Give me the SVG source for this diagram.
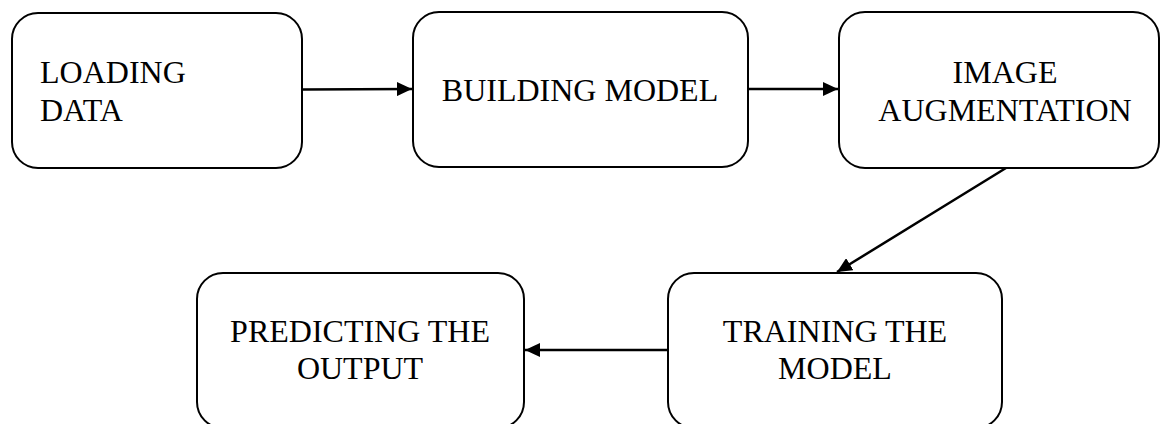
<svg xmlns="http://www.w3.org/2000/svg" width="1161" height="424" viewBox="0 0 1161 424">
<style>
.box{fill:#fff;stroke:#000;stroke-width:2}
.t{font-family:"Liberation Serif","Times New Roman",serif;font-size:32px;fill:#000}
.c{text-anchor:middle}
.edge{stroke:#000;stroke-width:2.5;fill:none;marker-end:url(#ah)}
</style>
<defs>
<marker id="ah" viewBox="0 0 15 14" refX="15" refY="7" markerWidth="15" markerHeight="14" markerUnits="userSpaceOnUse" orient="auto">
<path d="M0,0 L15,7 L0,14 Z" fill="#000"/>
</marker>
</defs>
<rect width="1161" height="424" fill="#fff"/>
<g id="n1">
<rect class="box" x="12" y="13" width="290" height="155" rx="26"/>
<text class="t" x="40" y="83">LOADING</text>
<text class="t" x="40" y="121">DATA</text>
</g>
<g id="n2">
<rect class="box" x="413" y="12" width="335" height="155" rx="26"/>
<text class="t c" x="580" y="101">BUILDING MODEL</text>
</g>
<g id="n3">
<rect class="box" x="839" y="12" width="320" height="156" rx="26"/>
<text class="t c" x="1005" y="83">IMAGE</text>
<text class="t c" x="1005" y="121">AUGMENTATION</text>
</g>
<g id="n4">
<rect class="box" x="668" y="273" width="334" height="155" rx="26"/>
<text class="t c" x="835" y="342">TRAINING THE</text>
<text class="t c" x="835" y="379">MODEL</text>
</g>
<g id="n5">
<rect class="box" x="197" y="273" width="327" height="155" rx="26"/>
<text class="t c" x="360" y="342">PREDICTING THE</text>
<text class="t c" x="360" y="379">OUTPUT</text>
</g>
<g id="connectors">
<path class="edge" d="M302,89.5 L412,89"/>
<path class="edge" d="M748,89 L838,89"/>
<path class="edge" d="M1006,168 L837,272"/>
<path class="edge" d="M668,350 L525,350"/>
</g>
</svg>
